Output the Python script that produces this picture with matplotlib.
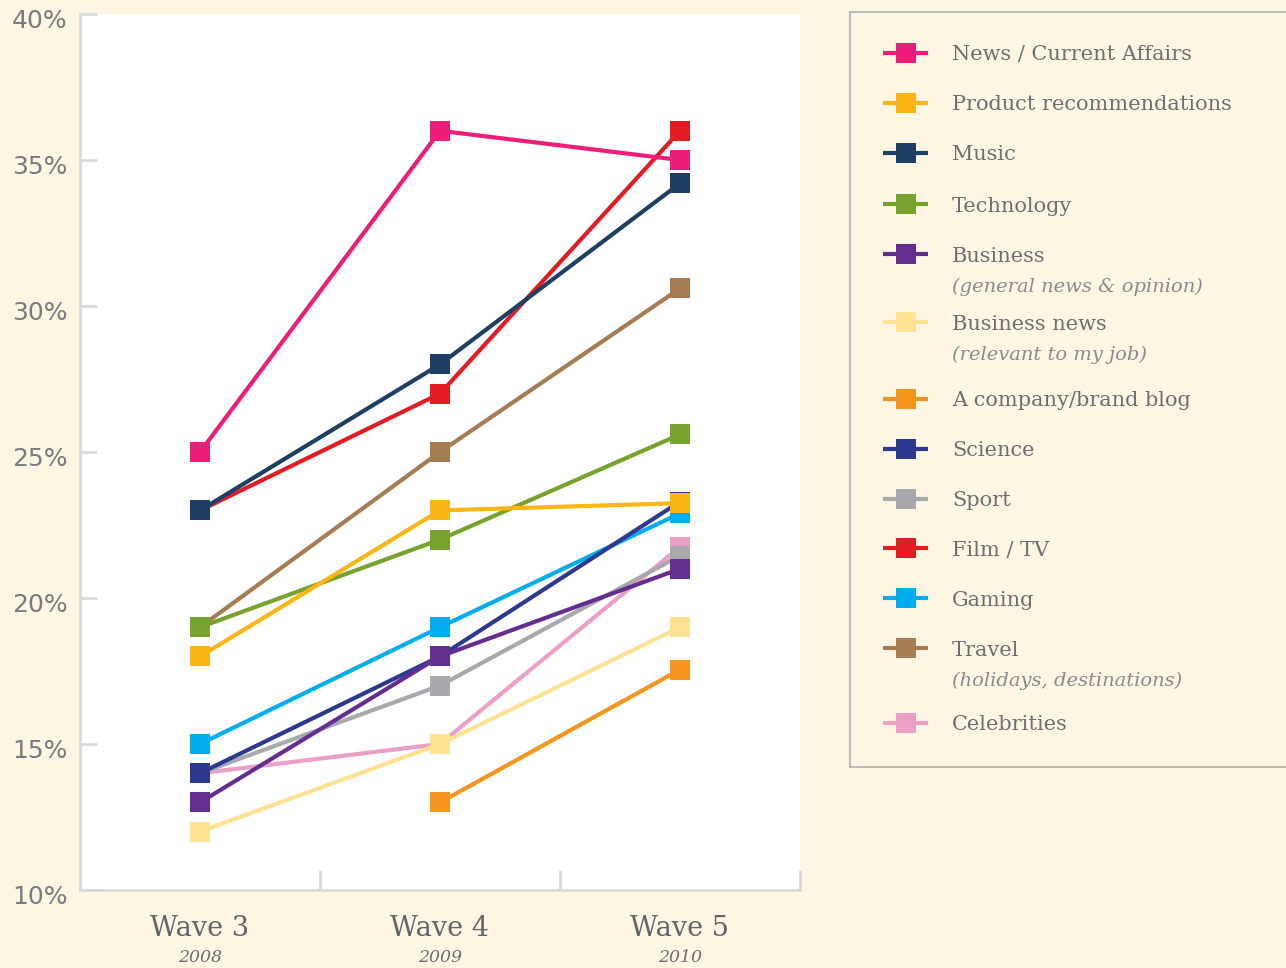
import numpy as np
import matplotlib
matplotlib.use("Agg")
import matplotlib.pyplot as plt
from matplotlib import transforms

waves = ["Wave 3", "Wave 4", "Wave 5"]
years = ["2008", "2009", "2010"]

series_names = ["News / Current Affairs", "Product recommendations", "Music", "Technology",
                "Business", "Business news", "A company/brand blog", "Science", "Sport",
                "Film / TV", "Gaming", "Travel", "Celebrities"]
series_sub = [None, None, None, None, "(general news & opinion)", "(relevant to my job)",
              None, None, None, None, None, "(holidays, destinations)", None]

news = [25, 36, 35]
product = [18, 23, 23.25]
music = [23, 28, 34.2]
technology = [19, 22, 25.6]
business = [13, 18, 21]
business_news = [12, 15, 19]
company_blog = [np.nan, 13, 17.55]
science = [14, 18, 23.3]
sport = [14, 17, 21.45]
film_tv = [23, 27, 36]
gaming = [15, 19, 22.9]
travel = [19, 25, 30.6]
celebrities = [14, 15, 21.75]

values = [news, product, music, technology, business, business_news, company_blog,
          science, sport, film_tv, gaming, travel, celebrities]
colors = ["#ed1e79", "#fbb615", "#1d3f63", "#76a22e", "#662d91", "#fee191", "#f7941d",
          "#2b3990", "#a7a9ac", "#e31b23", "#00aeef", "#a67c52", "#eb9fc6"]

yticks = [10, 15, 20, 25, 30, 35, 40]
ytick_labels = ["10%", "15%", "20%", "25%", "30%", "35%", "40%"]

BG = "#fdf6e3"
TXT = "#6d6e71"
SPINE = "#d9d9d9"

W, H = 1286, 968
fig = plt.figure(figsize=(W / 100, H / 100), dpi=100, facecolor=BG)

ax = fig.add_axes([80 / W, 1 - 890 / H, 720 / W, 876 / H])
ax.set_facecolor("white")
x = np.arange(len(waves))
n = len(values)
for i, (vals, c) in enumerate(zip(values, colors)):
    ax.plot(x, vals, color=c, lw=3, marker="s", ms=14.5, mew=0, zorder=10 + (n - i),
            solid_capstyle="butt", clip_on=False)

ax.set_xlim(-0.5, 2.5)
ax.set_ylim(10, 40)
for s in ["top", "right"]:
    ax.spines[s].set_visible(False)
for s in ["left", "bottom"]:
    ax.spines[s].set_color(SPINE)
    ax.spines[s].set_linewidth(2)

ax.set_yticks(yticks)
ax.set_yticklabels(ytick_labels)
ax.tick_params(axis="y", direction="in", length=12, width=2, color=SPINE,
               labelsize=18, labelcolor="#7a7b7e", pad=9)
for lab in ax.get_yticklabels():
    lab.set_fontfamily("DejaVu Sans")
    lab.set_fontweight("normal")
    lab.set_transform(lab.get_transform() + transforms.ScaledTranslation(0, -5 / 100, fig.dpi_scale_trans))

ax.set_xticks(x)
ax.set_xticklabels([])
ax.tick_params(axis="x", which="major", length=0)
ax.set_xticks([0.5, 1.5, 2.5], minor=True)
ax.tick_params(axis="x", which="minor", direction="in", length=14.5, width=2, color=SPINE)

bt = transforms.blended_transform_factory(ax.transData, fig.transFigure)
for xi, (w, yr) in enumerate(zip(waves, years)):
    ax.text(xi, 1 - 929 / H, w, transform=bt, ha="center", va="center", fontsize=19.5,
            color="#626366", family="DejaVu Serif")
    ax.text(xi, 1 - 958 / H, yr, transform=bt, ha="center", va="center", fontsize=12.5,
            color=TXT, style="italic", family="DejaVu Serif")

# legend panel
lg = fig.add_axes([850 / W, 1 - 767 / H, (W - 850 + 2) / W, 755 / H])
lg.set_facecolor(BG)
lg.set_xlim(850, W + 2)
lg.set_ylim(767, 12)
lg.set_xticks([])
lg.set_yticks([])
for s in lg.spines.values():
    s.set_color("#b0b0b0")
    s.set_linewidth(1.2)

entry_y = [53, 103, 153, 204, 254, 322, 399, 449, 499, 548, 598, 648, 723]
for name, sub, c, yy in zip(series_names, series_sub, colors, entry_y):
    lg.plot([883, 928], [yy, yy], color=c, lw=3, solid_capstyle="butt")
    lg.plot([905.5], [yy], color=c, marker="s", ms=14.5, mew=0)
    lg.text(952, yy + 2, name, ha="left", va="center", fontsize=15, color=TXT, family="DejaVu Serif")
    if sub:
        lg.text(952, yy + 33, sub, ha="left", va="center", fontsize=14, color="#8a8b8e",
                family="DejaVu Serif", style="italic")

fig.savefig("out.png", dpi=100, facecolor=BG)
